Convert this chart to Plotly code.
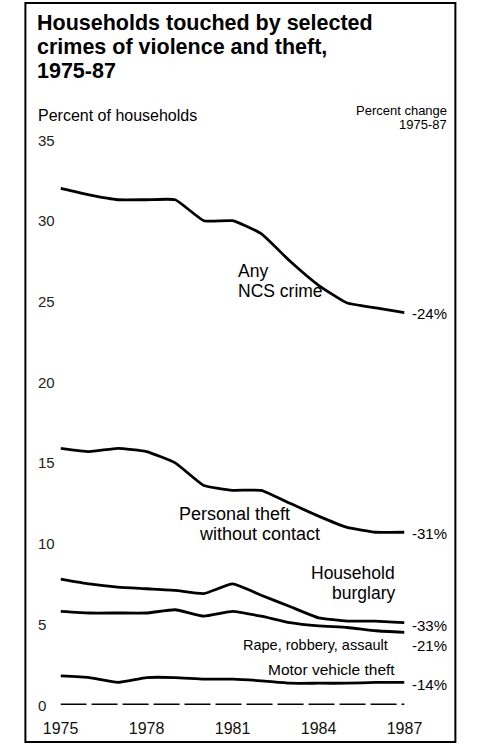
import plotly.graph_objects as go

W, H = 478, 747

years = list(range(1975, 1988))
any_ncs = [32.0, 31.6, 31.3, 31.3, 31.3, 30.0, 30.0, 29.2, 27.5, 26.0, 24.9, 24.6, 24.3]
personal_theft = [15.9, 15.7, 15.9, 15.7, 15.0, 13.6, 13.3, 13.3, 12.5, 11.7, 11.0, 10.7, 10.7]
burglary = [7.8, 7.5, 7.3, 7.2, 7.1, 6.9, 7.5, 6.8, 6.1, 5.4, 5.2, 5.2, 5.1]
violence = [5.8, 5.7, 5.7, 5.7, 5.9, 5.5, 5.8, 5.5, 5.1, 4.9, 4.8, 4.6, 4.5]
motor_vehicle = [1.8, 1.7, 1.4, 1.7, 1.7, 1.6, 1.6, 1.5, 1.35, 1.35, 1.35, 1.4, 1.4]

series_values = [any_ncs, personal_theft, burglary, violence, motor_vehicle]
changes = ["-24%", "-31%", "-33%", "-21%", "-14%"]
y_ticks = [0, 5, 10, 15, 20, 25, 30, 35]
x_ticks = [1975, 1978, 1981, 1984, 1987]
title_lines = ["Households touched by selected", "crimes of violence and theft,", "1975-87"]

FONT = "Liberation Sans, Arial, sans-serif"


def px_x(p):
    return p / W


def px_y(p):
    return 1 - p / H


x0_px, x1_px = 46, 418
y0_px, y35_px = 705, 140

fig = go.Figure()

for vals in series_values:
    fig.add_trace(go.Scatter(
        x=years, y=vals, mode="lines",
        line=dict(color="black", width=2.8, shape="spline", smoothing=0.4),
        showlegend=False, hoverinfo="skip"))

# dashed zero baseline
fig.add_trace(go.Scatter(
    x=[years[0], years[-1]], y=[0, 0], mode="lines",
    line=dict(color="black", width=3, dash="26px,5px"),
    showlegend=False, hoverinfo="skip"))

fig.update_layout(
    width=W, height=H,
    margin=dict(l=0, r=0, t=0, b=0),
    paper_bgcolor="white", plot_bgcolor="white",
    font=dict(family=FONT, color="black"),
    xaxis=dict(domain=[px_x(x0_px), px_x(x1_px)], range=[1975, 1987],
               tickvals=x_ticks, ticktext=[str(t) for t in x_ticks],
               showgrid=False, zeroline=False, showline=False, ticks="",
               tickfont=dict(size=16, family=FONT, color="#111"),
               ticklabelstandoff=12),
    yaxis=dict(domain=[px_y(y0_px), px_y(y35_px)], range=[0, 35],
               showgrid=False, zeroline=False, showline=False,
               showticklabels=False, ticks=""),
)

ann = []
# y tick labels, left aligned
for t in y_ticks:
    ann.append(dict(x=px_x(19), xref="paper", y=t, yref="y", text=str(t),
                    showarrow=False, xanchor="left", yanchor="middle",
                    font=dict(size=15, color="#222")))

# title, one annotation per line for tight spacing
for i, line in enumerate(title_lines):
    ann.append(dict(x=px_x(18), y=px_y(23 + 24 * i), xref="paper", yref="paper",
                    text="<b>" + line + "</b>", showarrow=False,
                    xanchor="left", yanchor="middle",
                    font=dict(size=21.5, color="black")))

ann.append(dict(x=px_x(19), y=px_y(116), xref="paper", yref="paper",
                text="Percent of households", showarrow=False,
                xanchor="left", yanchor="middle", font=dict(size=16)))
ann.append(dict(x=px_x(466), y=px_y(110), xref="paper", yref="paper",
                text="Percent change", showarrow=False,
                xanchor="right", yanchor="middle", font=dict(size=13)))
ann.append(dict(x=px_x(466), y=px_y(125), xref="paper", yref="paper",
                text="1975-87", showarrow=False,
                xanchor="right", yanchor="middle", font=dict(size=13)))

# series labels: (text, x px, y px, anchor, size)
label_specs = [
    ("Any", 236, 271, "left", 17.5),
    ("NCS crime", 236, 291, "left", 17.5),
    ("Personal theft", 172, 514, "left", 18),
    ("without contact", 194, 534, "left", 18),
    ("Household", 410, 573, "right", 17.5),
    ("burglary", 410, 593, "right", 17.5),
    ("Rape, robbery, assault", 402, 645, "right", 14.5),
    ("Motor vehicle theft", 410, 669, "right", 15.5),
]
for text, xp, yp, anchor, size in label_specs:
    ann.append(dict(x=px_x(xp), y=px_y(yp), xref="paper", yref="paper",
                    text=text, showarrow=False, xanchor=anchor,
                    yanchor="middle", font=dict(size=size)))

# percent change labels
change_y_px = [313, 533, 625, 645, 684]
for txt, yp in zip(changes, change_y_px):
    ann.append(dict(x=px_x(466), y=px_y(yp), xref="paper", yref="paper",
                    text=txt, showarrow=False, xanchor="right",
                    yanchor="middle", font=dict(size=15)))

fig.update_layout(annotations=ann)

# outer frame
fig.add_shape(type="rect", xref="paper", yref="paper",
              x0=px_x(8), x1=px_x(473), y0=px_y(742), y1=px_y(3),
              line=dict(color="black", width=2))

fig.write_html(
    "out.html",
    config={"displayModeBar": False},
    post_script="document.body.style.margin='0';document.body.style.overflow='hidden';",
)
